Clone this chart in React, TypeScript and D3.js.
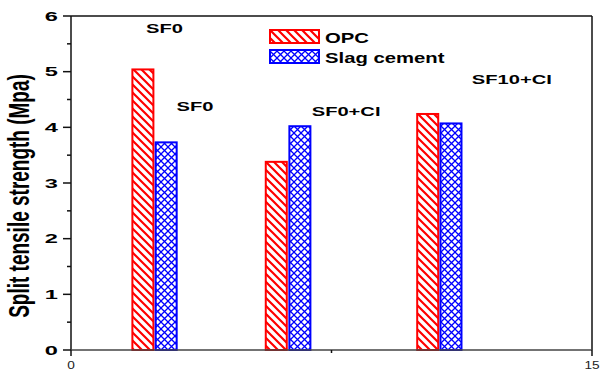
import { useEffect, useRef } from "react";
import * as d3 from "d3";

// bar positions on the numeric x axis (0-15) and values in Mpa
const opcX = [2.07, 5.91, 10.27];
const opcValues = [5.04, 3.38, 4.24];
const slagX = [2.74, 6.59, 10.94];
const slagValues = [3.73, 4.02, 4.07];
const seriesNames = ["OPC", "Slag cement"];

// mix labels written over the plot (data coords)
const labelText = ["SF0", "SF0", "SF0+CI", "SF10+CI"];
const labelX = [2.16, 3.04, 6.93, 11.54];
const labelY = [5.69, 4.29, 4.2, 4.78];

const yTicks = [0, 1, 2, 3, 4, 5, 6];
const xTickLabels = [0, 15];

const W = 600;
const H = 371;
const margin = { top: 16, right: 8, bottom: 21, left: 71 };
const red = "#ff0000";
const blue = "#0000ff";
const font = "'Liberation Sans', Arial, sans-serif";
const stretch = 1.55; // the source picture is widened horizontally

function App() {
    const ref = useRef<SVGSVGElement>(null);

    useEffect(() => {
        const svg = d3.select(ref.current);
        svg.selectAll("*").remove();

        const x = d3.scaleLinear().domain([0, 15]).range([margin.left, W - margin.right]);
        const y = d3.scaleLinear().domain([0, 6]).range([H - margin.bottom, margin.top]);
        const bw = x(0.605) - x(0);

        // ---------- patterns ----------
        const defs = svg.append("defs");
        const p1 = defs.append("pattern")
            .attr("id", "hatchRed")
            .attr("patternUnits", "userSpaceOnUse")
            .attr("width", 8)
            .attr("height", 8);
        p1.append("rect").attr("width", 8).attr("height", 8).attr("fill", "white");
        p1.append("path")
            .attr("d", "M-2,-2 L10,10 M-2,6 L2,10 M6,-2 L10,2")
            .attr("stroke", red)
            .attr("stroke-width", 2.2);

        const p2 = defs.append("pattern")
            .attr("id", "crossBlue")
            .attr("patternUnits", "userSpaceOnUse")
            .attr("width", 7)
            .attr("height", 7);
        p2.append("rect").attr("width", 7).attr("height", 7).attr("fill", "white");
        p2.append("path")
            .attr("d", "M-1,-1 L8,8 M-1,8 L8,-1")
            .attr("stroke", blue)
            .attr("stroke-width", 1.3);

        // ---------- bars ----------
        const g = svg.append("g");
        g.selectAll(".opc")
            .data(opcValues)
            .enter()
            .append("rect")
            .attr("class", "opc")
            .attr("x", (d, i) => x(opcX[i]) - bw / 2)
            .attr("y", (d) => y(d))
            .attr("width", bw)
            .attr("height", (d) => y(0) - y(d))
            .attr("fill", "url(#hatchRed)")
            .attr("stroke", red)
            .attr("stroke-width", 2);

        g.selectAll(".slag")
            .data(slagValues)
            .enter()
            .append("rect")
            .attr("class", "slag")
            .attr("x", (d, i) => x(slagX[i]) - bw / 2)
            .attr("y", (d) => y(d))
            .attr("width", bw)
            .attr("height", (d) => y(0) - y(d))
            .attr("fill", "url(#crossBlue)")
            .attr("stroke", blue)
            .attr("stroke-width", 2);

        // ---------- frame + axes ----------
        const axis = svg.append("g").attr("stroke", "#111").attr("stroke-width", 1.5).attr("fill", "none");
        axis.append("line").attr("x1", x(0)).attr("x2", x(15)).attr("y1", y(6)).attr("y2", y(6));
        axis.append("line").attr("x1", x(15)).attr("x2", x(15)).attr("y1", y(6)).attr("y2", y(0));
        axis.append("line").attr("x1", x(0)).attr("x2", x(0)).attr("y1", y(6)).attr("y2", y(0));
        axis.append("line").attr("x1", x(0)).attr("x2", x(15)).attr("y1", y(0)).attr("y2", y(0)).attr("stroke", "#444");

        // y major / minor ticks
        axis.selectAll(".ymaj")
            .data(yTicks)
            .enter()
            .append("line")
            .attr("x1", x(0) - 8)
            .attr("x2", x(0))
            .attr("y1", (d) => y(d))
            .attr("y2", (d) => y(d));
        axis.selectAll(".ymin")
            .data(yTicks.slice(0, -1))
            .enter()
            .append("line")
            .attr("x1", x(0) - 4)
            .attr("x2", x(0))
            .attr("y1", (d) => y(d + 0.5))
            .attr("y2", (d) => y(d + 0.5));

        // x ticks
        axis.selectAll(".xt")
            .data([0, 7.5, 15])
            .enter()
            .append("line")
            .attr("x1", (d) => x(d))
            .attr("x2", (d) => x(d))
            .attr("y1", y(0))
            .attr("y2", (d) => y(0) + (d === 7.5 ? 3 : 6));

        // y tick labels
        svg.selectAll(".ylab")
            .data(yTicks)
            .enter()
            .append("text")
            .attr("transform", (d) => `translate(${x(0) - 13},${y(d) + 4.8}) scale(1.75,1)`)
            .attr("text-anchor", "end")
            .attr("font-family", font)
            .attr("font-weight", "bold")
            .attr("font-size", 13.5)
            .text((d) => d);

        // x tick labels
        svg.selectAll(".xlab")
            .data(xTickLabels)
            .enter()
            .append("text")
            .attr("transform", (d) => `translate(${x(d)},${H - 2}) scale(1.3,1)`)
            .attr("text-anchor", "middle")
            .attr("font-family", font)
            .attr("font-size", 10.5)
            .attr("fill", "#222")
            .text((d) => d);

        // y axis title
        svg.append("text")
            .attr("transform", `translate(29,196) scale(${stretch},1) rotate(-90)`)
            .attr("text-anchor", "middle")
            .attr("font-family", font)
            .attr("font-weight", "bold")
            .attr("font-size", 19)
            .text("Split tensile strength (Mpa)");

        // mix labels
        svg.selectAll(".mix")
            .data(labelText)
            .enter()
            .append("text")
            .attr("transform", (d, i) => `translate(${x(labelX[i])},${y(labelY[i])}) scale(${stretch},1)`)
            .attr("font-family", font)
            .attr("font-weight", "bold")
            .attr("font-size", 13)
            .text((d) => d);

        // ---------- legend ----------
        const lg = svg.append("g").attr("transform", "translate(270,30)");
        const fills = ["url(#hatchRed)", "url(#crossBlue)"];
        const strokes = [red, blue];
        seriesNames.forEach((name, i) => {
            lg.append("rect")
                .attr("x", 0)
                .attr("y", i * 20)
                .attr("width", 49)
                .attr("height", 13)
                .attr("fill", fills[i])
                .attr("stroke", strokes[i])
                .attr("stroke-width", 2);
            lg.append("text")
                .attr("transform", `translate(55,${i * 20 + 12.5}) scale(1.45,1)`)
                .attr("font-family", font)
                .attr("font-weight", "bold")
                .attr("font-size", 14)
                .text(name);
        });
    }, []);

    return (
        <svg
            ref={ref}
            width={W}
            height={H}
            style={{ position: "absolute", left: 0, top: 0, background: "white" }}
        ></svg>
    );
}

export default App;
